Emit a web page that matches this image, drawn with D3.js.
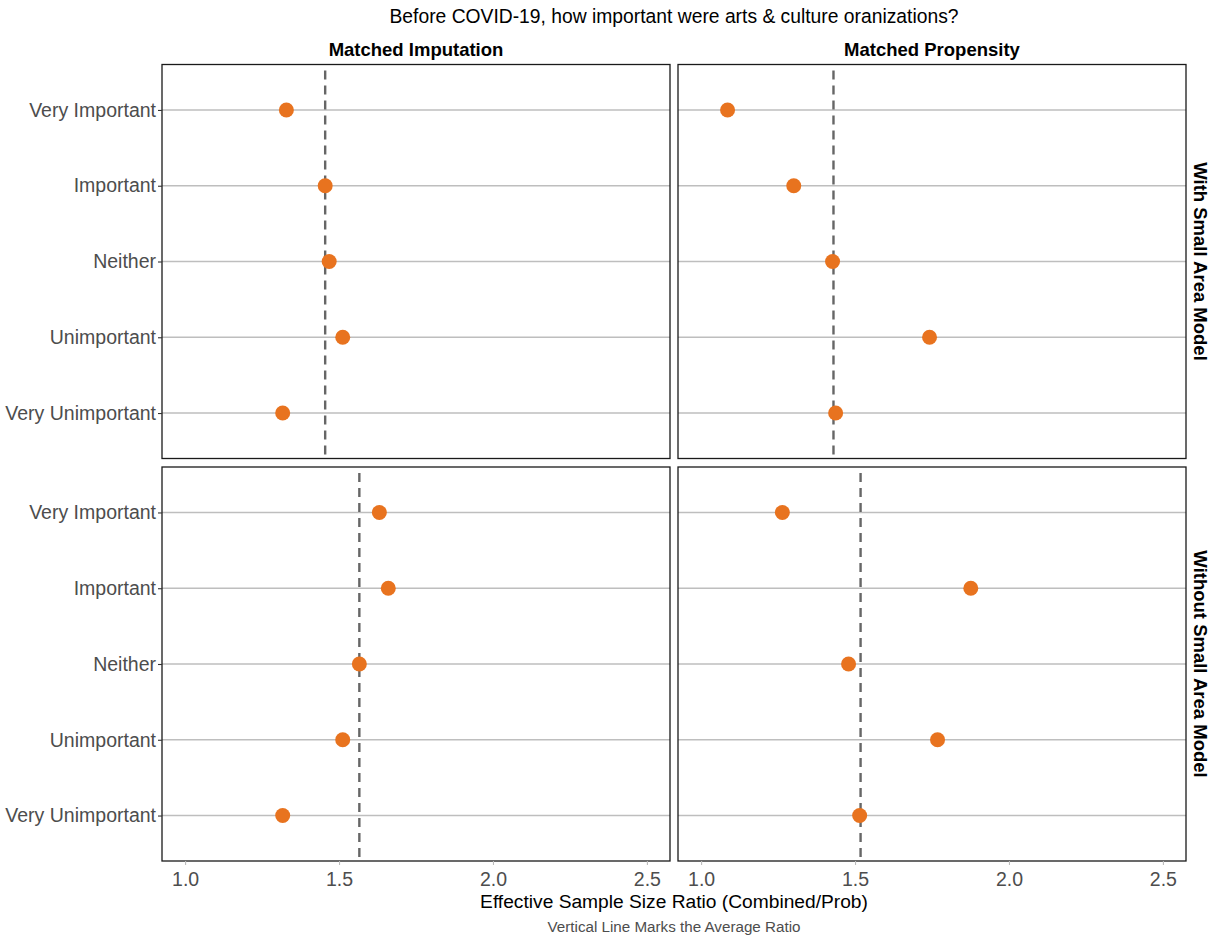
<!DOCTYPE html>
<html>
<head>
<meta charset="utf-8">
<script src="https://cdn.jsdelivr.net/npm/d3@7"></script>
<style>
  body { margin: 0; background: #fff; }
  svg { font-family: "Liberation Sans", Arial, sans-serif; }
</style>
</head>
<body>
<div id="chart"></div>
<script>
// categories, top to bottom
var categories = ["Very Important", "Important", "Neither", "Unimportant", "Very Unimportant"];
var methods = ["Matched Imputation", "Matched Propensity"];
var models = ["With Small Area Model", "Without Small Area Model"];
var xTicks = [1.0, 1.5, 2.0, 2.5];

// ratio values, one array per panel (same order as categories)
var withImputation    = [1.329, 1.455, 1.468, 1.512, 1.317];
var withPropensity    = [1.086, 1.301, 1.427, 1.742, 1.437];
var withoutImputation = [1.631, 1.660, 1.566, 1.512, 1.317];
var withoutPropensity = [1.264, 1.876, 1.479, 1.768, 1.515];

// average ratio lines per panel
var avgWith    = [1.455, 1.430];
var avgWithout = [1.566, 1.518];

var panels = [
  {row: 0, col: 0, values: withImputation, avg: avgWith[0]},
  {row: 0, col: 1, values: withPropensity, avg: avgWith[1]},
  {row: 1, col: 0, values: withoutImputation, avg: avgWithout[0]},
  {row: 1, col: 1, values: withoutPropensity, avg: avgWithout[1]}
];

var width = 1214, height = 938;
var panelLeft = [162, 678], panelW = 508;
var panelTop = [64.5, 467], panelH = 394;

var svg = d3.select("#chart").append("svg")
    .attr("width", width)
    .attr("height", height);

var y = d3.scalePoint()
    .domain(categories)
    .range([0, panelH])
    .padding(0.6);

var x = d3.scaleLinear()
    .domain([0.925, 2.575])
    .range([0, panelW]);

var orange = "#e8731f";

panels.forEach(function(p) {
    var g = svg.append("g")
        .attr("transform", "translate(" + panelLeft[p.col] + "," + panelTop[p.row] + ")");

    // horizontal grid lines
    g.selectAll(".grid")
        .data(categories)
        .enter().append("line")
        .attr("x1", 0).attr("x2", panelW)
        .attr("y1", d => y(d)).attr("y2", d => y(d))
        .attr("stroke", "#bebebe")
        .attr("stroke-width", 1.4);

    // average line
    g.append("line")
        .attr("x1", x(p.avg)).attr("x2", x(p.avg))
        .attr("y1", 0).attr("y2", panelH)
        .attr("stroke", "#666666")
        .attr("stroke-width", 2.4)
        .attr("stroke-dasharray", "9,6")
        .attr("stroke-dashoffset", -6);

    g.selectAll(".pt")
        .data(p.values)
        .enter().append("circle")
        .attr("cx", d => x(d))
        .attr("cy", (d, i) => y(categories[i]))
        .attr("r", 7.5)
        .attr("fill", orange);

    g.append("rect")
        .attr("width", panelW).attr("height", panelH)
        .attr("fill", "none")
        .attr("stroke", "#1a1a1a")
        .attr("stroke-width", 1.3);

    // y axis on left column
    if (p.col === 0) {
        var ya = g.append("g").call(d3.axisLeft(y).tickSize(4).tickPadding(2));
        ya.select(".domain").remove();
        ya.selectAll("line").attr("stroke", "#333").attr("stroke-width", 1.1);
        ya.selectAll("text").attr("fill", "#4d4d4d").style("font-size", "19.5px")
            .attr("font-family", "Liberation Sans, Arial, sans-serif");
    }
    // x axis on bottom row
    if (p.row === 1) {
        var xa = g.append("g")
            .attr("transform", "translate(0," + panelH + ")")
            .call(d3.axisBottom(x).tickValues(xTicks).tickFormat(d3.format(".1f")).tickSize(4).tickPadding(7));
        xa.select(".domain").remove();
        xa.selectAll("line").attr("stroke", "#bbbbbb").attr("stroke-width", 1.1);
        xa.selectAll("text").attr("fill", "#4d4d4d").style("font-size", "19.5px")
            .attr("font-family", "Liberation Sans, Arial, sans-serif");
    }
});

// column strips
methods.forEach(function(m, i) {
    svg.append("text")
        .attr("x", panelLeft[i] + panelW / 2)
        .attr("y", 56)
        .attr("text-anchor", "middle")
        .style("font-size", "18.5px")
        .style("font-weight", "bold")
        .text(m);
});

// row strips
models.forEach(function(m, i) {
    svg.append("text")
        .attr("transform", "translate(1194," + (panelTop[i] + panelH / 2) + ") rotate(90)")
        .attr("text-anchor", "middle")
        .style("font-size", "18.5px")
        .style("font-weight", "bold")
        .text(m);
});

var cx = (panelLeft[0] + panelLeft[1] + panelW) / 2;

svg.append("text")
    .attr("x", cx).attr("y", 23)
    .attr("text-anchor", "middle")
    .style("font-size", "19.3px")
    .text("Before COVID-19, how important were arts & culture oranizations?");

svg.append("text")
    .attr("x", cx).attr("y", 908)
    .attr("text-anchor", "middle")
    .style("font-size", "19.2px")
    .text("Effective Sample Size Ratio (Combined/Prob)");

svg.append("text")
    .attr("x", cx).attr("y", 932)
    .attr("text-anchor", "middle")
    .attr("fill", "#4d4d4d")
    .style("font-size", "15.2px")
    .text("Vertical Line Marks the Average Ratio");
</script>
</body>
</html>
